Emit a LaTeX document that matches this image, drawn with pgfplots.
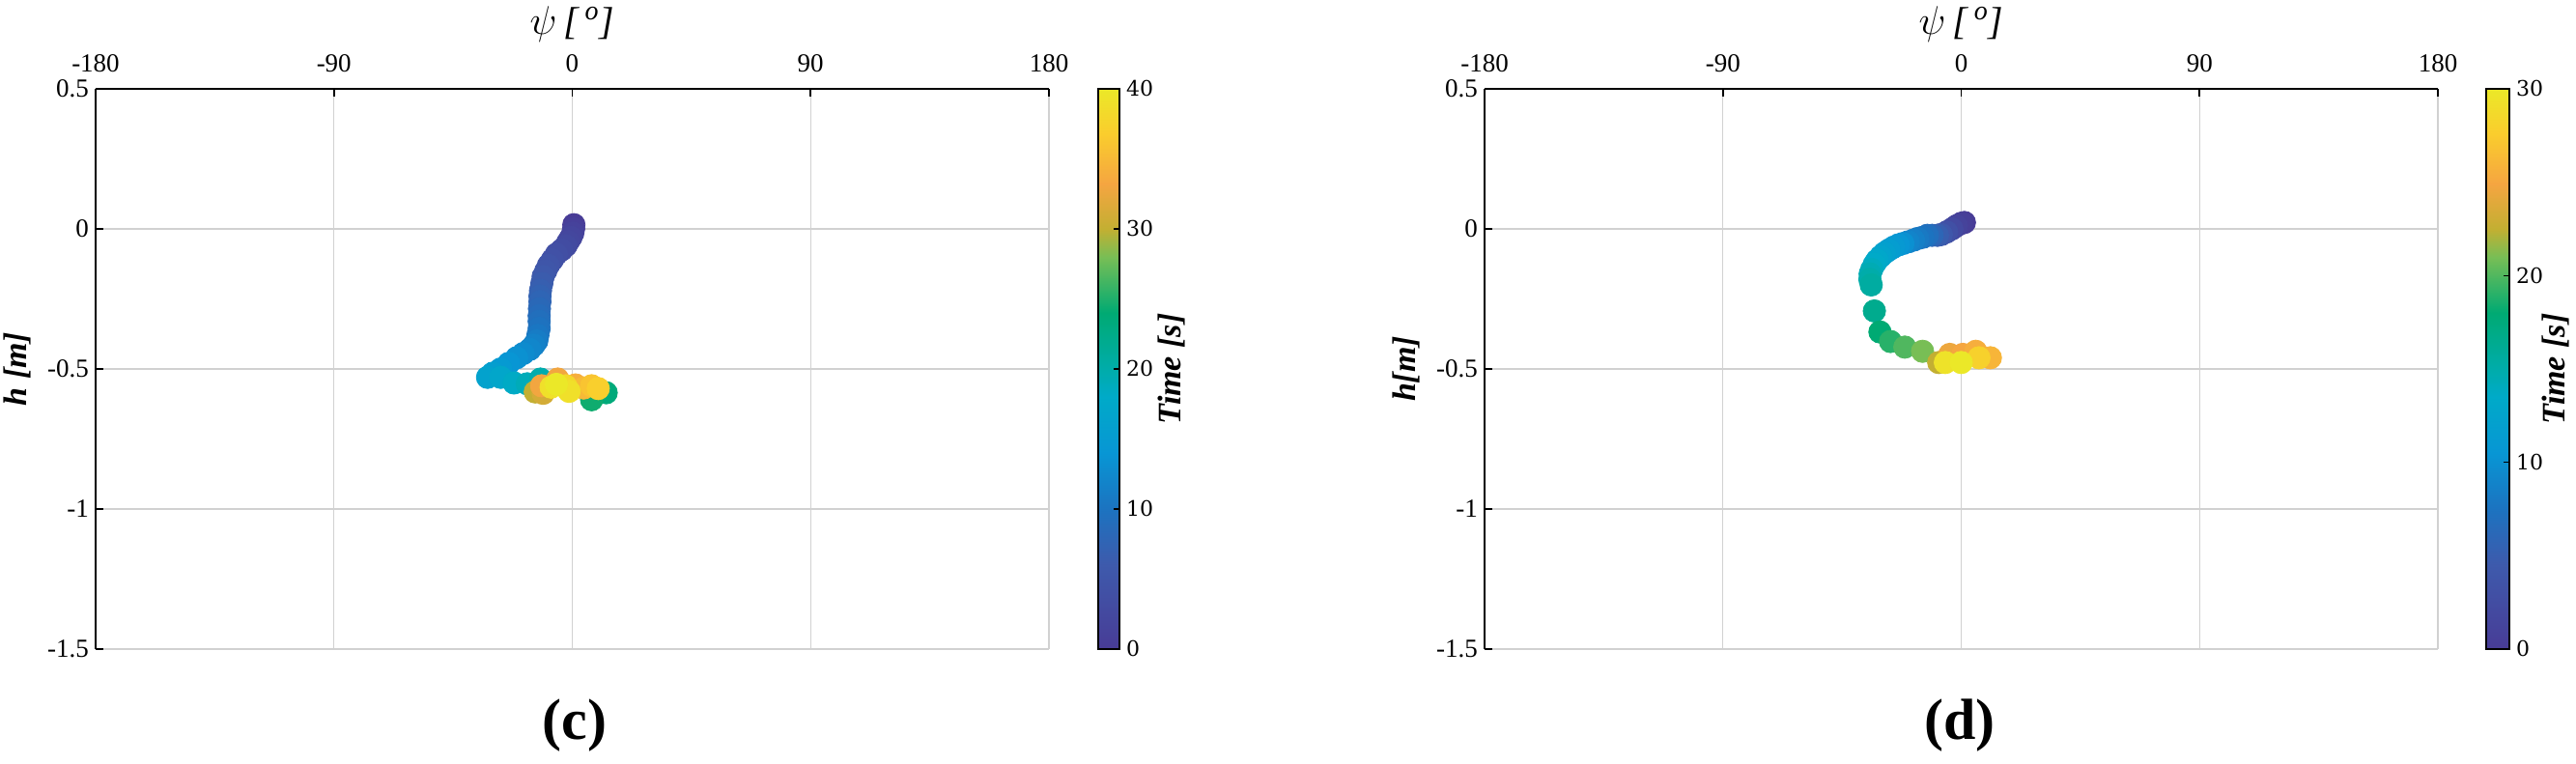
\documentclass[border=0pt]{standalone}
\usepackage{pgfplots}
\usepackage{pgfplotstable}
\pgfplotsset{compat=1.18}
\usepackage{fontspec}
\setmainfont{Liberation Serif}
\newfontfamily\cbfont{DejaVu Serif}

\pgfplotsset{colormap={parulaish}{
 rgb255(0cm)=(72,60,150)
 rgb255(15cm)=(62,90,172)
 rgb255(25cm)=(28,115,192)
 rgb255(35cm)=(8,150,212)
 rgb255(45cm)=(0,170,200)
 rgb255(50cm)=(0,172,170)
 rgb255(60cm)=(0,170,115)
 rgb255(70cm)=(120,190,85)
 rgb255(75cm)=(195,175,50)
 rgb255(83cm)=(245,165,65)
 rgb255(92cm)=(250,205,45)
 rgb255(100cm)=(235,232,40)}}

\pgfplotstableread{
psi h t
0.6 0.015 0
0.5 0.0 0.7
0.2 -0.015 1.3
-0.5 -0.03 1.8
-1.5 -0.045 2.3
-2.4 -0.06 2.8
-4 -0.075 3.3
-6 -0.09 3.8
-7.5 -0.11 4.3
-9 -0.13 4.8
-10 -0.15 5.3
-11 -0.17 5.8
-11.5 -0.195 6.3
-12 -0.22 6.8
-12.2 -0.24 7.3
-12.2 -0.26 7.8
-12.4 -0.285 8.3
-12.5 -0.31 8.8
-12.5 -0.33 9.3
-12.5 -0.355 9.8
-13 -0.38 10.4
-13.4 -0.40 11
-14.5 -0.415 11.6
-16 -0.43 12.2
-18.5 -0.445 12.8
-21 -0.46 13.4
-24 -0.48 14
-27 -0.50 14.8
-30 -0.515 15.6
-32 -0.53 16.4
-27 -0.53 17.2
-22 -0.55 18.2
-17 -0.553 19
-12 -0.536 19.8
-9.8 -0.57 20.5
12.8 -0.585 23.5
7.3 -0.61 24.5
-14 -0.582 30
-11 -0.587 31
-11.6 -0.56 33
-5.5 -0.536 33
1.2 -0.557 34
4.3 -0.568 35
7.3 -0.56 36
9.8 -0.57 37
-2.5 -0.56 38
-8 -0.565 39
-1.2 -0.58 39
-6 -0.555 40
}\leftdata

\pgfplotstableread{
psi h t
1.2 0.023 0
0 0.02 0.5
-1.8 0.011 1
-3.5 0.0 2
-5.5 -0.011 3
-7.5 -0.02 4
-9 -0.023 5
-11 -0.023 6
-12.8 -0.023 7
-14.5 -0.03 7.5
-16.4 -0.034 8
-18 -0.04 8.5
-20 -0.046 9
-22 -0.052 10
-23.7 -0.057 10.5
-25.5 -0.065 11
-27.3 -0.075 11.5
-29 -0.086 12
-30.4 -0.098 12.5
-31.8 -0.112 13
-32.8 -0.126 13.5
-33.8 -0.145 14
-34.4 -0.161 14.5
-34.5 -0.18 15
-34 -0.2 15.5
-32.8 -0.293 16.5
-30.7 -0.368 18
-26.7 -0.402 19
-21.3 -0.422 20
-14.6 -0.437 21
-8.5 -0.477 22.5
-4.3 -0.448 24.5
0.6 -0.448 25
5.5 -0.437 25.5
11 -0.46 26
6.7 -0.46 28
-6 -0.477 29.5
0 -0.477 30
}\rightdata

\pgfplotsset{
 myaxis/.style={
  anchor=south west, scale only axis, width=493.5pt, height=290pt,
  xmin=-180, xmax=180, ymin=-1.5, ymax=0.5,
  axis x line*=top, axis y line*=left,
  xtick={-180,-90,0,90,180}, xticklabels={-180,-90,0,90,180},
  ytick={-1.5,-1,-0.5,0,0.5}, yticklabels={-1.5,-1,-0.5,0,0.5},
  grid=major, grid style={black!18, line width=0.7pt},
  tick align=inside, major tick length=4pt,
  tick style={black, line width=0.8pt},
  axis line style={black, line width=1pt},
  ticklabel style={font=\fontsize{13.5}{14}\selectfont},
  xticklabel style={yshift=5pt},
  xlabel={$\psi\,$\textit{[\,\textsuperscript{o}]}},
  xlabel style={at={(axis description cs:0.5,1.1155)}, anchor=center, font=\fontsize{20}{22}\selectfont},
  ylabel style={at={(axis description cs:-0.082,0.5)}, anchor=center, font=\fontsize{17}{19}\selectfont},
  colormap name=parulaish,
  colorbar,
 },
 myscatter/.style={scatter, only marks, mark=*, mark size=5.8pt,
  scatter src=explicit,
  scatter/use mapped color={draw=mapped color, fill=mapped color}},
}

\begin{document}
\begin{tikzpicture}
\path[use as bounding box] (0,0) rectangle (1333.5pt,395.5pt);

\begin{axis}[myaxis, at={(49.5pt,59.5pt)},
  point meta min=0, point meta max=40,
  ylabel={\textbf{\textit{h [m]}}},
  colorbar style={at={(parent axis.north east)}, anchor=north west, xshift=17pt,
   width=11pt, ytick={0,10,20,30,40}, yticklabels={0,10,20,30,40},
   ytick pos=right, tick align=inside, major tick length=3pt,
   axis line style={black, line width=0.8pt},
   yticklabel style={font=\cbfont\fontsize{11}{12}\selectfont},
   ylabel={\textbf{\textit{Time [s]}}},
   ylabel style={at={(axis description cs:3.45,0.5)}, anchor=center, font=\fontsize{17}{19}\selectfont}},
]
\addplot[myscatter] table[x=psi, y=h, meta=t] {\leftdata};
\end{axis}

\begin{axis}[myaxis, at={(768.5pt,59.5pt)},
  point meta min=0, point meta max=30,
  ylabel={\textbf{\textit{h[m]}}},
  colorbar style={at={(parent axis.north east)}, anchor=north west, xshift=16.5pt,
   width=12pt, ytick={0,10,20,30}, yticklabels={0,10,20,30},
   ytick pos=right, tick align=inside, major tick length=3pt,
   axis line style={black, line width=0.8pt},
   yticklabel style={font=\cbfont\fontsize{11}{12}\selectfont},
   ylabel={\textbf{\textit{Time [s]}}},
   ylabel style={at={(axis description cs:3.0,0.5)}, anchor=center, font=\fontsize{17}{19}\selectfont}},
]
\addplot[myscatter] table[x=psi, y=h, meta=t] {\rightdata};
\end{axis}

\node[font=\fontsize{30}{32}\selectfont\bfseries] at (297.5pt,20pt) {(c)};
\node[font=\fontsize{30}{32}\selectfont\bfseries] at (1014.5pt,20pt) {(d)};
\end{tikzpicture}
\end{document}
